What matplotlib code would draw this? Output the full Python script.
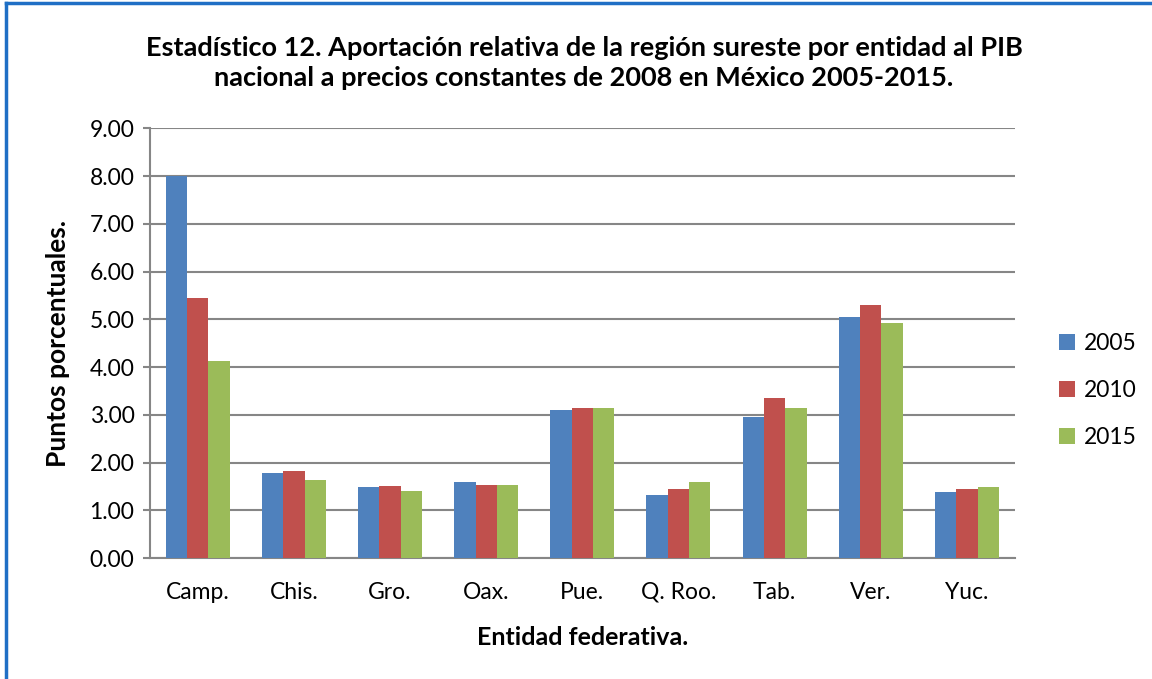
import numpy as np
import matplotlib.pyplot as plt
from matplotlib.lines import Line2D

# Aportación relativa al PIB nacional (puntos porcentuales)
entidades = ["Camp.", "Chis.", "Gro.", "Oax.", "Pue.", "Q. Roo.", "Tab.", "Ver.", "Yuc."]
anios = ["2005", "2010", "2015"]
v2005 = [8.01, 1.78, 1.49, 1.60, 3.11, 1.33, 2.95, 5.04, 1.39]
v2010 = [5.44, 1.83, 1.51, 1.54, 3.14, 1.44, 3.36, 5.31, 1.45]
v2015 = [4.13, 1.64, 1.41, 1.54, 3.14, 1.60, 3.15, 4.92, 1.48]
colores = ["#4F81BD", "#C0504D", "#9BBB59"]

plt.rcParams['font.family'] = ['Lato', 'DejaVu Sans']

fig = plt.figure(figsize=(11.52, 6.79), dpi=100)
ax = fig.add_axes([0.130, 0.178, 0.751, 0.633])

x = np.arange(len(entidades))
ancho = 0.222
for i, (serie, c) in enumerate(zip([v2005, v2010, v2015], colores)):
    ax.bar(x + (i - 1) * ancho, serie, ancho, color=c, label=anios[i], zorder=3)

ax.set_xlim(-0.5, len(entidades) - 0.5)
ax.set_ylim(0, 9)
ax.set_yticks(np.arange(0, 10, 1))
ax.set_yticklabels([f"{v:.2f}" for v in np.arange(0, 10, 1)])
ax.set_xticks(x)
ax.set_xticklabels(entidades)
ax.yaxis.grid(True, color="#868686", linewidth=1.5, zorder=0)
ax.tick_params(axis='y', length=5, color="#868686", width=1.5, labelsize=16.5, pad=6)
ax.tick_params(axis='x', length=0, labelsize=16.5, pad=17)

for s in ["top", "right"]:
    ax.spines[s].set_visible(False)
for s in ["left", "bottom"]:
    ax.spines[s].set_color("#868686")
    ax.spines[s].set_linewidth(1.5)

ax.set_ylabel("Puntos porcentuales.", fontsize=19, fontweight="bold", labelpad=14)
ax.set_xlabel("Entidad federativa.", fontsize=18, fontweight="bold", labelpad=17)

fig.text(0.507, 0.907,
         "Estadístico 12. Aportación relativa de la región sureste por entidad al PIB\n"
         "nacional a precios constantes de 2008 en México 2005-2015.",
         ha="center", va="center", fontsize=19.5, fontweight="bold", linespacing=1.3)

ax.legend(loc="center left", bbox_to_anchor=(1.027, 0.39), frameon=False,
          fontsize=16.5, handlelength=0.7, handleheight=0.7, labelspacing=1.15,
          handletextpad=0.4)

# marco de la figura (solo bordes superior e izquierdo visibles)
fig.add_artist(Line2D([0.005, 0.005], [0, 0.995], color="#1F6FC5", linewidth=2.5))
fig.add_artist(Line2D([0.005, 1.0], [0.995, 0.995], color="#1F6FC5", linewidth=2.5))

fig.savefig("out.png", dpi=100)
